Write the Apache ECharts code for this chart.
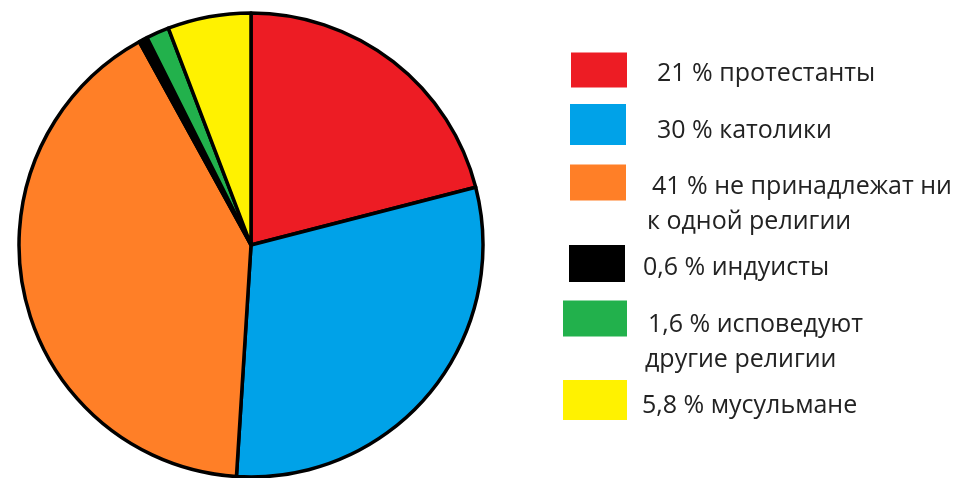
<!DOCTYPE html>
<html>
<head>
<meta charset="utf-8">
<style>
  html, body { margin: 0; padding: 0; background: #ffffff; }
  #chart { width: 976px; height: 478px; }
</style>
<script src="https://cdn.jsdelivr.net/npm/echarts@6/dist/echarts.min.js"></script>
</head>
<body>
<div id="chart"></div>
<script>
// Religious affiliation shares, in percent
const groups = [
  'протестанты',
  'католики',
  'не принадлежат ни\nк одной религии',
  'индуисты',
  'исповедуют\nдругие религии',
  'мусульмане'
];
const shares = [21, 30, 41, 0.6, 1.6, 5.8];
const colors = ['#ED1C24', '#00A2E8', '#FF7F27', '#000000', '#22B14C', '#FFF200'];

// Legend placement per entry:
// [swatch left, swatch top, swatch width, swatch height, first line x, next lines x, first line middle y]
const legendBoxes = [
  [571, 52, 56, 35, 657, 657, 73],
  [570, 104, 56, 41, 657, 657, 131],
  [570, 164, 56, 36, 652, 647, 186],
  [569, 245, 56, 37, 643, 643, 268],
  [563, 300, 64, 36, 648, 645, 324],
  [563, 380, 64, 40, 642, 642, 406]
];

const fmt = v => String(v).replace('.', ',');
const labelOf = {};
groups.forEach((g, i) => { labelOf[g] = fmt(shares[i]) + ' % ' + g; });

const chart = echarts.init(document.getElementById('chart'), null, { renderer: 'canvas' });

const lineH = 35;
const textBase = { fontFamily: 'Open Sans', fontSize: 25, color: '#222222', lineHeight: lineH };

const legends = groups.map((g, i) => {
  const [x, y, w, h, x1, x2, mid1] = legendBoxes[i];
  const n = labelOf[g].split('\n').length;
  // the label block is centred on the swatch; a leading spacer line pushes
  // the first text line down to its place
  const spacer = Math.max(1, 2 * (mid1 - (y + h / 2) + (n - 1) * lineH / 2));
  // the layout box counts only the text lines, centred on the swatch
  const above = Math.max(0, n * lineH / 2 - h / 2);
  return {
    data: [g],
    left: x,
    top: y - above,
    orient: 'vertical',
    padding: 0,
    itemWidth: w,
    itemHeight: h,
    icon: 'rect',
    itemStyle: { borderWidth: 0 },
    selectedMode: false,
    formatter: name => '{sp| }\n' + labelOf[name].split('\n')
      .map((l, k) => (k === 0 ? '{a|' : '{b|') + l + '}').join('\n'),
    textStyle: {
      rich: {
        sp: { fontSize: 1, lineHeight: spacer },
        a: Object.assign({ padding: [0, 0, 0, x1 - (x + w) - 5] }, textBase),
        b: Object.assign({ padding: [0, 0, 0, x2 - (x + w) - 5] }, textBase)
      }
    }
  };
});

chart.setOption({
  backgroundColor: '#ffffff',
  animation: false,
  color: colors,
  legend: legends,
  series: [{
    type: 'pie',
    center: [251, 245],
    radius: 232,
    startAngle: 90,
    clockwise: true,
    label: { show: false },
    labelLine: { show: false },
    emphasis: { disabled: true },
    itemStyle: { borderColor: '#000000', borderWidth: 3.5 },
    data: groups.map((g, i) => ({ name: g, value: shares[i] }))
  }]
});
</script>
</body>
</html>
